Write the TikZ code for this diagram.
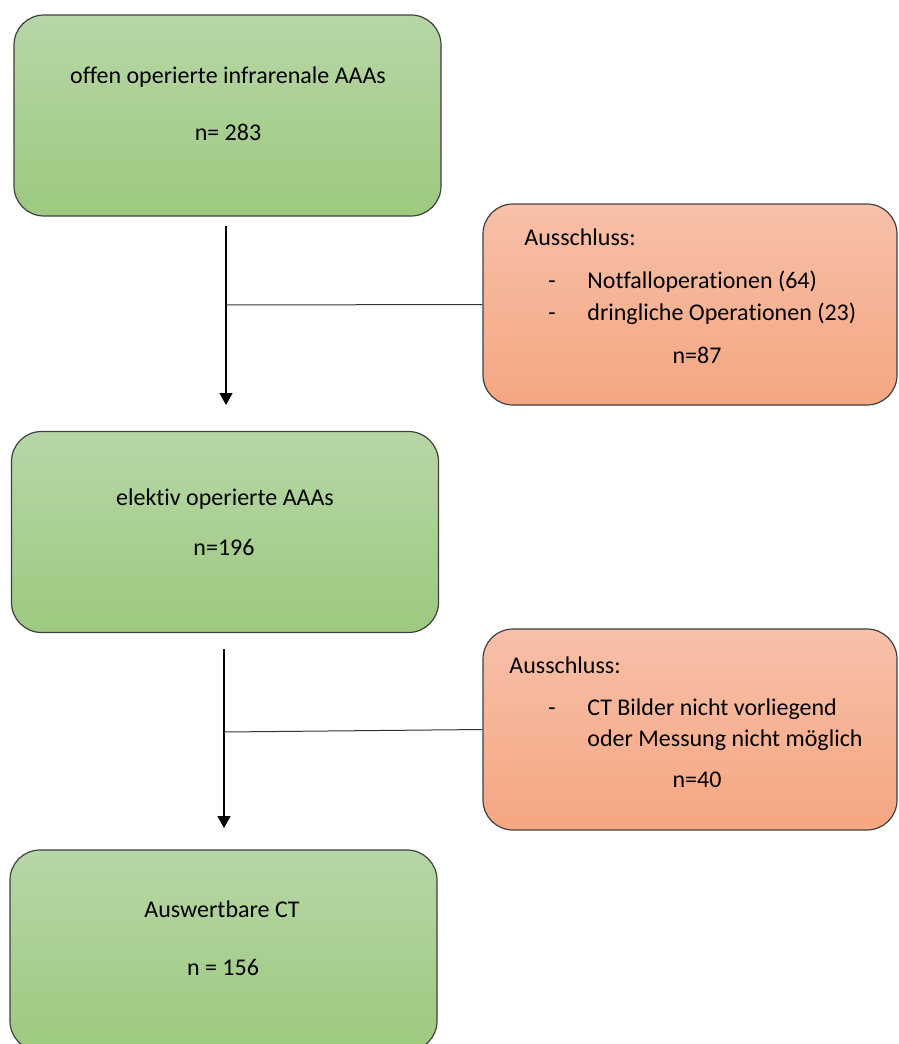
\documentclass[tikz,border=0pt]{standalone}
\usepackage{fontspec}
\setmainfont{Carlito}[Ligatures=NoCommon]
\usetikzlibrary{arrows.meta}

\definecolor{greentop}{RGB}{183,214,166}
\definecolor{greenbot}{RGB}{157,201,127}
\definecolor{redtop}{RGB}{247,192,168}
\definecolor{redbot}{RGB}{245,166,130}

\begin{document}
\begin{tikzpicture}[x=0.5pt,y=-0.5pt,font=\fontsize{12}{14}\selectfont]
	\tikzstyle{box}=[draw=black!75,line width=0.6pt,rounded corners=15pt,top color=greentop,bottom color=greenbot,minimum width=213.5pt,minimum height=100.5pt]
	\tikzstyle{excl}=[box,top color=redtop,bottom color=redbot,minimum width=207pt]
	\tikzstyle{txt}=[inner sep=0pt,anchor=base]
	\tikzstyle{item}=[inner sep=0pt,anchor=base west]
	\tikzstyle{flow}=[-{Triangle[width=6.5pt,length=6pt]},line width=0.6pt]

	\useasboundingbox (0,0) rectangle (899,1044);

	% boxes
	\node[box](open) at (227.5,115.5){};
	\node[excl](excl1) at (690,304.5){};
	\node[box](elective) at (225,532){};
	\node[excl](excl2) at (690,729.5){};
	\node[box](ct) at (223.5,950.5){};

	% texts
	\node[txt](t1) at (228,83){offen operierte infrarenale AAAs};
	\node[txt](n1) at (228,140){n= 283};
	\node[item](a1) at (524,245){Ausschluss:};
	\node[txt](d1) at (552,288){-};
	\node[item](l1) at (587,288){Notfalloperationen (64)};
	\node[txt](d2) at (552,320){-};
	\node[item](l2) at (587,320){dringliche Operationen (23)};
	\node[txt](n2) at (697,363){n=87};
	\node[txt](t2) at (225,505){elektiv operierte AAAs};
	\node[txt](n3) at (224,555){n=196};
	\node[item](a2) at (509,673){Ausschluss:};
	\node[txt](d3) at (552,715){-};
	\node[item](l3) at (587,715){CT Bilder nicht vorliegend};
	\node[item](l4) at (587,746){oder Messung nicht möglich};
	\node[txt](n4) at (697,787){n=40};
	\node[txt](t3) at (222,917){Auswertbare CT};
	\node[txt](n5) at (223,975){n = 156};

	% connectors
	\coordinate (s1) at (226,226);
	\coordinate (j1) at (226,305);
	\coordinate (e1) at (226,405);
	\coordinate (s2) at (224,649);
	\coordinate (j2) at (224,732);
	\coordinate (e2) at (224,828);
	\draw[flow] (s1) -- (e1);
	\draw[line width=0.5pt,black!80] (j1) -- (excl1.west);
	\draw[flow] (s2) -- (e2);
	\draw[line width=0.5pt,black!80] (j2) -- (excl2.west);
\end{tikzpicture}
\end{document}
